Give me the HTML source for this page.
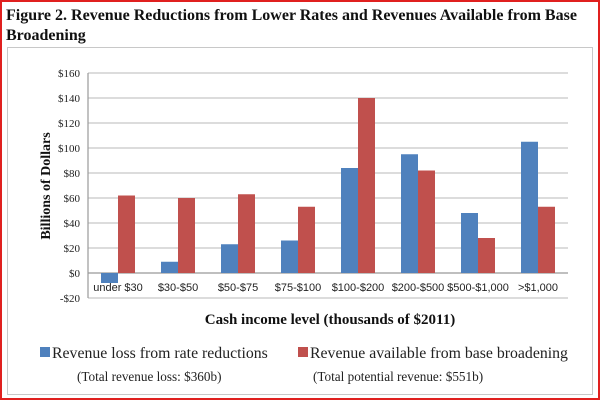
<!DOCTYPE html>
<html><head><meta charset="utf-8"><style>
body{margin:0;background:#fff;}
</style></head><body>
<svg width="600" height="400" xmlns="http://www.w3.org/2000/svg" font-family="Liberation Serif, serif">
<rect x="1" y="1" width="598" height="398" fill="#fff" stroke="#e0201f" stroke-width="2"/>
<text x="6" y="20" font-size="16" font-weight="bold" fill="#111">Figure 2. Revenue Reductions from Lower Rates and Revenues Available from Base</text>
<text x="6" y="40" font-size="16" font-weight="bold" fill="#111">Broadening</text>
<rect x="7.5" y="47.5" width="585" height="347" fill="#fff" stroke="#c8c8c8"/>
<g stroke="#c6c6c6" stroke-width="1.2">
<line x1="88" y1="73" x2="568" y2="73"/><line x1="88" y1="98" x2="568" y2="98"/>
<line x1="88" y1="123" x2="568" y2="123"/><line x1="88" y1="148" x2="568" y2="148"/>
<line x1="88" y1="173" x2="568" y2="173"/><line x1="88" y1="198" x2="568" y2="198"/>
<line x1="88" y1="223" x2="568" y2="223"/><line x1="88" y1="248" x2="568" y2="248"/>
<line x1="88" y1="298" x2="568" y2="298"/>
</g>
<g stroke="#999" stroke-width="1.2">
<line x1="88" y1="73" x2="88" y2="298"/>
<line x1="88" y1="273" x2="568" y2="273"/>
</g>
<g font-size="11" fill="#222" text-anchor="end">
<text x="80" y="77">$160</text><text x="80" y="102">$140</text><text x="80" y="127">$120</text>
<text x="80" y="152">$100</text><text x="80" y="177">$80</text><text x="80" y="202">$60</text>
<text x="80" y="227">$40</text><text x="80" y="252">$20</text><text x="80" y="277">$0</text>
<text x="80" y="302">-$20</text>
</g>
<text transform="translate(50,186) rotate(-90)" font-size="14" font-weight="bold" text-anchor="middle" fill="#111">Billions of Dollars</text>
<g fill="#4f81bd">
<rect x="101" y="273" width="17" height="10"/>
<rect x="161" y="261.75" width="17" height="11.25"/>
<rect x="221" y="244.25" width="17" height="28.75"/>
<rect x="281" y="240.5" width="17" height="32.5"/>
<rect x="341" y="168" width="17" height="105"/>
<rect x="401" y="154.25" width="17" height="118.75"/>
<rect x="461" y="213" width="17" height="60"/>
<rect x="521" y="141.75" width="17" height="131.25"/>
</g>
<g fill="#c0504d">
<rect x="118" y="195.5" width="17" height="77.5"/>
<rect x="178" y="198" width="17" height="75"/>
<rect x="238" y="194.25" width="17" height="78.75"/>
<rect x="298" y="206.75" width="17" height="66.25"/>
<rect x="358" y="98" width="17" height="175"/>
<rect x="418" y="170.5" width="17" height="102.5"/>
<rect x="478" y="238" width="17" height="35"/>
<rect x="538" y="206.75" width="17" height="66.25"/>
</g>
<g font-size="11" fill="#222" text-anchor="middle" font-family="Liberation Sans, sans-serif">
<text x="118" y="291">under $30</text><text x="178" y="291">$30-$50</text><text x="238" y="291">$50-$75</text>
<text x="298" y="291">$75-$100</text><text x="358" y="291">$100-$200</text><text x="418" y="291">$200-$500</text>
<text x="478" y="291">$500-$1,000</text><text x="538" y="291">>$1,000</text>
</g>
<text x="330" y="324" font-size="15" font-weight="bold" text-anchor="middle" fill="#111">Cash income level (thousands of $2011)</text>
<rect x="40" y="347" width="10" height="10" fill="#4f81bd"/>
<text x="52" y="358" font-size="15.8" fill="#222">Revenue loss from rate reductions</text>
<rect x="298" y="347" width="10" height="10" fill="#c0504d"/>
<text x="310" y="358" font-size="15.8" fill="#222">Revenue available  from base broadening</text>
<text x="77" y="381" font-size="13.2" fill="#222">(Total revenue loss: $360b)</text>
<text x="313" y="381" font-size="13.2" fill="#222">(Total potential revenue: $551b)</text>
</svg>
</body></html>
